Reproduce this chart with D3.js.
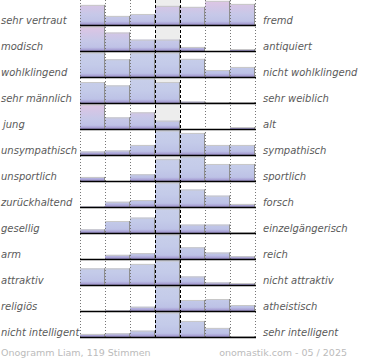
<!DOCTYPE html>
<html><head><meta charset="utf-8">
<script src="https://cdn.jsdelivr.net/npm/d3@7"></script>
<style>body{margin:0;background:#fff}svg{display:block}</style>
</head><body>
<script>
const leftLabels = ["sehr vertraut","modisch","wohlklingend","sehr männlich","jung","unsympathisch","unsportlich","zurückhaltend","gesellig","arm","attraktiv","religiös","nicht intelligent"];
const rightLabels = ["fremd","antiquiert","nicht wohlklingend","sehr weiblich","alt","sympathisch","sportlich","forsch","einzelgängerisch","reich","nicht attraktiv","atheistisch","sehr intelligent"];
const levels = [0,1,2,3,4,5,6];
// percentages per row (7 levels)
const values = [
  [16.4, 7.4, 9.0, 15.6, 14.8, 19.7, 17.2],
  [61.4, 15.1, 9.3, 9.3, 3.3, 0, 1.6],
  [21, 14.5, 21, 21, 14.8, 5.7, 8.2],
  [17.1, 14.4, 48.6, 17.1, 1.2, 0.8, 0.8],
  [68.5, 9.5, 13.6, 6.8, 0, 0, 1.6],
  [2.9, 3.7, 8.2, 50.8, 18.0, 8.2, 8.2],
  [3.3, 0, 5.5, 17.8, 45.6, 13.9, 13.9],
  [0.4, 4.3, 5.7, 63.5, 14.3, 9.3, 2.5],
  [3.0, 9.8, 12.6, 60, 6.9, 6.9, 0.8],
  [0, 3.4, 4.8, 74.6, 9.6, 5.3, 2.3],
  [13.6, 13.6, 17.2, 44.9, 7.0, 2.1, 1.6],
  [0, 0.4, 3.5, 72.4, 9.0, 9.8, 4.9],
  [2.5, 3.0, 5.2, 68, 13.1, 7.4, 0.8]
];
const footerLeft = "Onogramm Liam, 119 Stimmen";
const footerRight = "onomastik.com - 05 / 2025";

// style: rows drawn with the pinkish palette
const pinkRows = new Set([0, 1, 4]);

const W = 370, H = 360;
const svg = d3.select("body").append("svg").attr("width", W).attr("height", H);
const x = d3.scaleBand().domain(levels).range([80, 255]).paddingInner(0).paddingOuter(0);
const y = d3.scaleBand().domain(d3.range(leftLabels.length)).range([0, 338]);
const h = d3.scaleLinear().domain([0, 20]).range([0, 24.5]).clamp(true);
const yTop = 0, yBottom = 338;

const pinkStops = [[0, "#e0c6e4"], [0.3, "#d2c6e6"], [0.6, "#c6c8e8"], [0.85, "#bfc2e6"], [0.93, "#aca6d8"], [1, "#9a90c6"]];
const blueStops = [[0, "#c8cfea"], [0.5, "#c4cbe9"], [0.85, "#bdc2e6"], [0.93, "#aca6d8"], [1, "#9a90c6"]];

const defs = svg.append("defs");
leftLabels.forEach((l, i) => {
  const g = defs.append("linearGradient").attr("id", "g" + i)
    .attr("gradientUnits", "userSpaceOnUse")
    .attr("x1", 0).attr("x2", 0)
    .attr("y1", y(i)).attr("y2", y(i) + 25);
  (pinkRows.has(i) ? pinkStops : blueStops)
    .forEach(([o, c]) => g.append("stop").attr("offset", o).attr("stop-color", c));
});

// middle column background
svg.append("rect").attr("x", x(3)).attr("y", yTop).attr("width", x.bandwidth()).attr("height", yBottom - yTop).attr("fill", "#ededed");

const rows = svg.selectAll("g.row").data(values).join("g").attr("class", "row");
rows.each(function(vals, i) {
  const g = d3.select(this);
  const base = y(i) + 25;
  vals.forEach((v, j) => {
    const bh = h(v);
    if (bh <= 0) return;
    const x0 = x(j), x1 = x(j) + x.bandwidth();
    g.append("rect").attr("x", x0).attr("y", base - bh).attr("width", x.bandwidth()).attr("height", bh)
      .attr("fill", `url(#g${i})`);
    g.append("line").attr("x1", x0).attr("x2", x1 + 1).attr("y1", base - bh + 0.5).attr("y2", base - bh + 0.5)
      .attr("stroke", "#c8c8c8").attr("stroke-width", 1);
    g.append("line").attr("x1", x1 - 0.5).attr("x2", x1 - 0.5).attr("y1", base - bh).attr("y2", base)
      .attr("stroke", "#8f8f8f").attr("stroke-width", 1);
  });
});

// vertical grid lines
[0, 1, 2, 5, 6].map(d => x(d)).concat([255]).forEach(xx => {
  svg.append("line").attr("x1", xx + 0.5).attr("x2", xx + 0.5).attr("y1", yTop).attr("y2", yBottom)
    .attr("stroke", "#777").attr("stroke-width", 1).attr("stroke-dasharray", "1,2");
});
[x(3), x(4)].forEach(xx => {
  svg.append("line").attr("x1", xx + 0.5).attr("x2", xx + 0.5).attr("y1", yTop).attr("y2", yBottom)
    .attr("stroke", "#000").attr("stroke-width", 1).attr("stroke-dasharray", "3,2");
});

// baselines
leftLabels.forEach((l, i) => {
  svg.append("line").attr("x1", 80).attr("x2", 256).attr("y1", y(i) + 25.5).attr("y2", y(i) + 25.5)
    .attr("stroke", "#000").attr("stroke-width", 1.5);
});

const font = "DejaVu Sans, Verdana, sans-serif";
svg.selectAll("text.l").data(leftLabels).join("text").attr("class", "l")
  .attr("x", (d) => d === "jung" ? 3 : 1).attr("y", (d, i) => y(i) + 24)
  .attr("font-family", font).attr("font-size", 10).attr("font-style", "italic").attr("fill", "#5a5a5a")
  .text(d => d);
svg.selectAll("text.r").data(rightLabels).join("text").attr("class", "r")
  .attr("x", 263).attr("y", (d, i) => y(i) + 24)
  .attr("font-family", font).attr("font-size", 10).attr("font-style", "italic").attr("fill", "#5a5a5a")
  .text(d => d);

svg.append("text").attr("x", 1).attr("y", 356).attr("font-family", font).attr("font-size", 9.5)
  .attr("fill", "#bbb").text(footerLeft);
svg.append("text").attr("x", 347).attr("y", 356).attr("text-anchor", "end").attr("font-family", font).attr("font-size", 9.5)
  .attr("fill", "#bbb").text(footerRight);
</script>
</body></html>
